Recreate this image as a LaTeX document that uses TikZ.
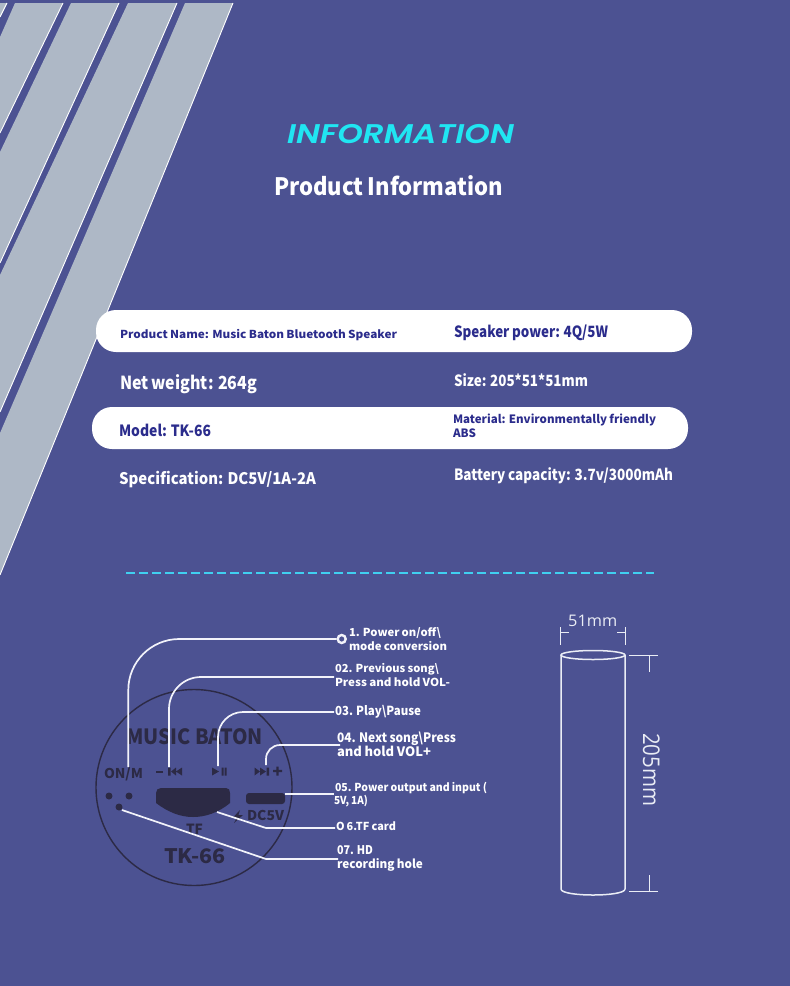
\documentclass[tikz,border=0pt]{standalone}
\usepackage{fontspec}
\usepackage{graphicx}
\setmainfont{Noto Sans CJK SC}
\newfontfamily\popfont{Poppins}[ItalicFont={Poppins Medium Italic},BoldItalicFont={Poppins SemiBold Italic}]
\newfontfamily\dimfont{Open Sans}
\definecolor{bgc}{HTML}{4C5292}
\definecolor{stripec}{HTML}{AEB8C6}
\definecolor{navy}{HTML}{2B2C8C}
\definecolor{cyanc}{HTML}{20E6F2}
\definecolor{dashc}{HTML}{40D0F0}
\definecolor{darkc}{HTML}{2C2A45}
\definecolor{linec}{HTML}{F2F3FA}
\definecolor{dimc}{HTML}{EAEDF5}
\newcommand{\fitw}[2]{\sbox0{\spaceskip=.2em #2}\pgfmathsetmacro\myr{#1/\the\wd0}\scalebox{\myr}[1]{\usebox0}}
% name, x, baseline y, width, size, colour, text
\newcommand{\T}[7]{\node[tx,text=#6] (#1) at (#2,#3) {\fontsize{#5}{#5}\selectfont\fitw{#4}{#7}};}
\tikzset{
  tx/.style={inner sep=0pt,outer sep=0pt,anchor=base west,font=\bfseries,yshift=-1.5pt},
  pill/.style={fill=white,rounded corners=20pt},
  band/.style={fill=stripec},
  edgeline/.style={draw=white,line width=0.9pt},
  conn/.style={draw=linec,line width=1.7pt},
  dimline/.style={draw=dimc,line width=0.9pt},
  cyl/.style={draw=dimc,line width=1.5pt},
  mark dark/.style={fill=darkc,draw=none}
}
\begin{document}
\begin{tikzpicture}[x=1pt,y=-1pt]
\useasboundingbox (0,0) rectangle (790,986);
\fill[bgc] (0,0) rectangle (790,986);
% stripes
\fill[band] (7,3) -- (0,3) -- (0,17) -- cycle;
\fill[band] (15,3) -- (63,3) -- (0,133) -- (0,37) -- cycle;
\fill[band] (71,3) -- (119,3) -- (0,263) -- (0,152) -- cycle;
\fill[band] (128,3) -- (177,3) -- (0,412) -- (0,275) -- cycle;
\fill[band] (185,3) -- (233,3) -- (0,575) -- (0,433) -- cycle;
\draw[edgeline] (7,3) -- (0,17);
\draw[edgeline] (63,3) -- (0,133);
\draw[edgeline] (119,3) -- (0,263);
\draw[edgeline] (177,3) -- (0,412);
\draw[edgeline] (233,3) -- (0,575);
% titles
\node[tx,text=cyanc,yshift=1.5pt] (info) at (287,143) {\popfont\fontsize{27}{27}\selectfont\fitw{227}{\bfseries\itshape INFORMATION}};
\T{prod}{274}{194}{229}{24}{white}{Product Information}
% pills
\fill[pill] (96,310) rectangle (692,352);
\fill[pill] (92,407) rectangle (688,449);
\T{a1}{120}{337}{277}{11}{navy}{Product Name: Music Baton Bluetooth Speaker}
\T{a2}{454}{336}{154}{15.5}{navy}{Speaker power: 4Q/5W}
\T{b1}{120}{388}{137}{18}{white}{Net weight: 264g}
\T{b2}{454}{385}{134}{15.5}{white}{Size: 205*51*51mm}
\T{c1}{119}{435}{92}{15.5}{navy}{Model: TK-66}
\T{c2}{453}{422}{203}{11.5}{navy}{Material: Environmentally friendly}
\T{c3}{453}{436}{23}{11.5}{navy}{ABS}
\T{d1}{119}{483}{197}{16}{white}{Specification: DC5V/1A-2A}
\T{d2}{454}{479}{219}{15.5}{white}{Battery capacity: 3.7v/3000mAh}
% dashed rule
\coordinate (ruleL) at (126,572.7);
\coordinate (ruleR) at (654,572.7);
\draw[dashc,line width=1.8pt,dash pattern=on 9.2pt off 3.8pt] (ruleL) -- (ruleR);
% speaker end
\node[circle,draw=darkc,line width=1.4pt,minimum size=196pt,inner sep=0pt] (disc) at (194,787.5) {};
\T{music}{126}{743}{137}{21}{darkc}{MUSIC BATON}
\T{onm}{104}{777}{39}{13.5}{darkc}{ON/M}
\T{tf}{186}{833}{17}{14}{darkc}{TF}
\T{tk}{164}{862}{62}{20}{darkc}{TK-66}
\T{dc}{247}{819}{37}{13.5}{darkc}{DC5V}
\fill[mark dark] (156,770.6) rectangle (163,773);
\fill[mark dark] (168,767.5) rectangle (170.5,775.5) (171,771.5) -- (176,767.5) -- (176,775.5) -- cycle (176,771.5) -- (182,767.5) -- (182,775.5) -- cycle;
\fill[mark dark] (212,767.5) -- (212,775.5) -- (219,771.5) -- cycle (221.5,767.5) rectangle (223.5,775.5) (224.5,767.5) rectangle (226.5,775.5);
\fill[mark dark] (254.5,767.5) -- (254.5,775.5) -- (260,771.5) -- cycle (260,767.5) -- (260,775.5) -- (266,771.5) -- cycle (266.5,767.5) rectangle (269,775.5);
\fill[mark dark] (273,769.8) rectangle (282,772.2) (276.3,766.5) rectangle (278.7,775.5);
\node[circle,mark dark,minimum size=7pt,inner sep=0pt] (mic1) at (109,796) {};
\node[circle,mark dark,minimum size=7pt,inner sep=0pt] (mic2) at (129,796) {};
\node[circle,mark dark,minimum size=7pt,inner sep=0pt] (mic3) at (119,807) {};
\fill[mark dark] (161,788) -- (226,788) .. controls (229,788) and (230,790) .. (230,793) -- (230,803) .. controls (218,813) and (205,817) .. (193,817) .. controls (180,817) and (168,812) .. (156,803) -- (156,793) .. controls (156,790) and (158,788) .. (161,788) -- cycle;
\node[mark dark,rounded corners=3pt,minimum width=39pt,minimum height=11pt,inner sep=0pt] (port) at (265.5,798.5) {};
\fill[mark dark] (240,810) -- (233,817.5) -- (237,817.5) -- (234,823) -- (243,815) -- (238.5,815) -- cycle;
% connector anchors
\node[circle,draw=linec,line width=2.4pt,minimum size=8pt,inner sep=0pt,fill=none] (ring) at (341.7,639) {};
\coordinate (p1) at (128.3,767);
\coordinate (e2) at (334,677);
\coordinate (p2) at (169,767);
\coordinate (e3) at (334,712);
\coordinate (p3) at (218,766);
\coordinate (e4) at (340,745);
\coordinate (p4) at (266,765);
\coordinate (e5) at (334,794);
\coordinate (s6) at (217,812);
\coordinate (k6) at (266,828);
\coordinate (e6) at (335,828);
\coordinate (s7) at (122,810);
\coordinate (k7) at (266,859);
\coordinate (e7) at (338,859);
\draw[conn,rounded corners=51pt] (ring.west) -| (p1);
\draw[conn,rounded corners=32pt] (e2) -| (p2);
\draw[conn,rounded corners=25pt] (e3) -| (p3);
\draw[conn,rounded corners=14pt] (e4) -| (p4);
\draw[conn] (port.east) ++(0,-4.5) -- (e5);
\draw[conn] (s6) -- (k6) -- (e6);
\draw[conn] (s7) -- (k7) -- (e7);
% labels
\T{l1a}{349}{635}{92}{11}{white}{1. Power on/off\textbackslash}
\T{l1b}{349}{649}{98}{11}{white}{mode conversion}
\T{l2a}{335}{671}{104}{11}{white}{02. Previous song\textbackslash}
\T{l2b}{335}{685}{115}{11}{white}{Press and hold VOL-}
\T{l3}{335}{714}{86}{12.5}{white}{03. Play\textbackslash Pause}
\T{l4a}{337}{741}{119}{13}{white}{04. Next song\textbackslash Press}
\T{l4b}{337}{755}{94}{13}{white}{and hold VOL+}
\T{l5a}{335}{790}{152}{11}{white}{05. Power output and input (}
\T{l5b}{334}{803}{34}{11}{white}{5V, 1A)}
\T{l6}{336}{829}{60}{11}{white}{O 6.TF card}
\T{l7a}{337}{853}{36}{12}{white}{07. HD}
\T{l7b}{337}{867}{86}{12}{white}{recording hole}
% cylinder
\coordinate (cylTL) at (561,655);
\coordinate (cylTR) at (625,655);
\coordinate (cylBL) at (561,889);
\coordinate (cylBR) at (625,889);
\draw[cyl] (593,655) ellipse [x radius=32pt,y radius=4.5pt];
\draw[cyl] (cylTL) -- (cylBL) .. controls (561,897) and (625,897) .. (cylBR) -- (cylTR);
% dimensions
\draw[dimline] (560,627) -- (560,645) (625,627) -- (625,645) (560,632) -- (569,632) (617,632) -- (625,632);
\draw[dimline] (629,655) -- (658,655) (649,655) -- (649,672) (629,891) -- (658,891) (649,875) -- (649,891);
\node[inner sep=0pt,anchor=base west,text=dimc] (w51) at (568,626) {\dimfont\fontsize{16}{16}\selectfont\fitw{49}{51mm}};
\node[inner sep=0pt,anchor=base west,text=dimc,rotate=-90] (h205) at (643,733) {\dimfont\fontsize{23}{23}\selectfont\fitw{73}{205mm}};
\end{tikzpicture}
\end{document}
